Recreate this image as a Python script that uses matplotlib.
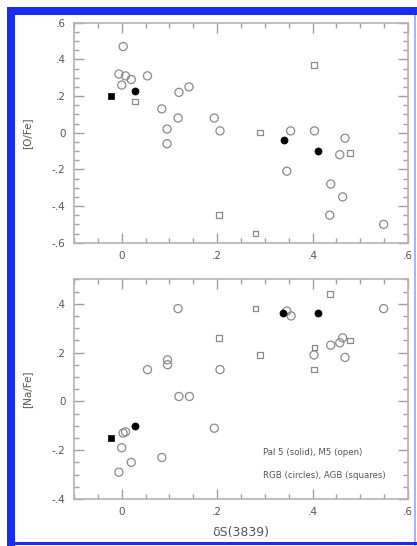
import matplotlib
matplotlib.use("Agg")
import matplotlib.pyplot as plt
from matplotlib.patches import Rectangle
from matplotlib.ticker import MultipleLocator, FuncFormatter

# ---------------- data ----------------
# Top panel: [O/Fe] vs dS(3839)
o_rgb_open_x = [0.003, -0.006, 0.008, 0.020, 0.000, 0.054, 0.141, 0.120, 0.084, 0.118,
                0.095, 0.095, 0.194, 0.206, 0.354, 0.404, 0.468, 0.457, 0.346, 0.438,
                0.463, 0.436, 0.549]
o_rgb_open_y = [0.47, 0.32, 0.31, 0.29, 0.26, 0.31, 0.25, 0.22, 0.13, 0.08,
                0.02, -0.06, 0.08, 0.01, 0.01, 0.01, -0.03, -0.12, -0.21, -0.28,
                -0.35, -0.45, -0.50]
o_agb_open_x = [0.028, 0.290, 0.403, 0.478, 0.204, 0.280]
o_agb_open_y = [0.17, 0.00, 0.37, -0.11, -0.45, -0.55]
o_rgb_pal5_x = [0.027, 0.341, 0.411]
o_rgb_pal5_y = [0.23, -0.04, -0.10]
o_agb_pal5_x = [-0.023]
o_agb_pal5_y = [0.20]

# Bottom panel: [Na/Fe] vs dS(3839)
na_rgb_open_x = [0.118, 0.346, 0.355, 0.549, 0.403, 0.438, 0.457, 0.463, 0.468, 0.096,
                 0.096, 0.054, 0.206, 0.120, 0.142, 0.194, 0.003, 0.008, 0.000, 0.020,
                 -0.006, 0.084]
na_rgb_open_y = [0.38, 0.37, 0.35, 0.38, 0.19, 0.23, 0.24, 0.26, 0.18, 0.17,
                 0.15, 0.13, 0.13, 0.02, 0.02, -0.11, -0.13, -0.125, -0.19, -0.25,
                 -0.29, -0.23]
na_agb_open_x = [0.280, 0.436, 0.204, 0.290, 0.404, 0.403, 0.478]
na_agb_open_y = [0.38, 0.44, 0.26, 0.19, 0.22, 0.13, 0.25]
na_rgb_pal5_x = [0.339, 0.411, 0.027]
na_rgb_pal5_y = [0.36, 0.36, -0.10]
na_agb_pal5_x = [-0.023]
na_agb_pal5_y = [-0.15]

x_label = "δS(3839)"
y_labels = ["[O/Fe]", "[Na/Fe]"]
note1 = "Pal 5 (solid), M5 (open)"
note2 = "RGB (circles), AGB (squares)"

# ---------------- figure ----------------
W, H = 417, 546
DPI = 100
fig = plt.figure(figsize=(W / DPI, H / DPI), dpi=DPI)
fig.patch.set_facecolor("white")


def box(l, t, r, b):
    return [l / W, 1 - b / H, (r - l) / W, (b - t) / H]


def prect(l, t, r, b, color):
    fig.add_artist(Rectangle((l / W, 1 - b / H), (r - l) / W, (b - t) / H,
                             transform=fig.transFigure, facecolor=color,
                             edgecolor="none", zorder=0))


blue = "#1a2cf0"
prect(7, 7, 15, 546, blue)      # left thick
prect(7, 7, 417, 15, blue)      # top thick
prect(414, 15, 416, 546, "#a8b4f4")  # right thin
prect(7, 542, 417, 545, blue)   # bottom thin

ax1 = fig.add_axes(box(74, 22.7, 408, 242.7))
ax2 = fig.add_axes(box(74, 279.3, 408, 499))

spine_c = "#b4b4b4"
tick_c = "#a0a0a0"
lab_c = "#555555"


def fmt(v, pos):
    if abs(v) < 1e-9:
        return "0"
    s = f"{v:.1f}"
    return s.replace("0.", ".")


for ax in (ax1, ax2):
    ax.set_xlim(-0.1, 0.6)
    ax.xaxis.set_major_locator(MultipleLocator(0.2))
    ax.xaxis.set_minor_locator(MultipleLocator(0.05))
    ax.yaxis.set_major_locator(MultipleLocator(0.2))
    ax.yaxis.set_minor_locator(MultipleLocator(0.05))
    ax.xaxis.set_major_formatter(FuncFormatter(fmt))
    ax.yaxis.set_major_formatter(FuncFormatter(fmt))
    ax.tick_params(which="both", direction="in", top=True, right=True,
                   color=tick_c, width=1.0, labelcolor=lab_c, labelsize=7.5)
    ax.tick_params(which="major", length=7.5, pad=6)
    ax.tick_params(which="minor", length=3.5)
    for sp in ax.spines.values():
        sp.set_color(spine_c)
        sp.set_linewidth(1.2)

ax1.set_ylim(-0.6, 0.6)
ax2.set_ylim(-0.4, 0.5)

open_c = "#8a8a8a"


def draw(ax, rx, ry, ax_, ay, px, py, sx, sy):
    ax.scatter(rx, ry, s=34, marker="o", facecolors="none", edgecolors=open_c,
               linewidths=0.9, zorder=3)
    ax.scatter(ax_, ay, s=16, marker="s", facecolors="none", edgecolors=open_c,
               linewidths=0.9, zorder=3)
    ax.scatter(px, py, s=26, marker="o", facecolors="black", edgecolors="black",
               linewidths=0.5, zorder=4)
    ax.scatter(sx, sy, s=16, marker="s", facecolors="black", edgecolors="black",
               linewidths=0.5, zorder=4)


draw(ax1, o_rgb_open_x, o_rgb_open_y, o_agb_open_x, o_agb_open_y,
     o_rgb_pal5_x, o_rgb_pal5_y, o_agb_pal5_x, o_agb_pal5_y)
draw(ax2, na_rgb_open_x, na_rgb_open_y, na_agb_open_x, na_agb_open_y,
     na_rgb_pal5_x, na_rgb_pal5_y, na_agb_pal5_x, na_agb_pal5_y)

ax1.set_ylabel(y_labels[0], color=lab_c, fontsize=7.5, labelpad=14)
ax2.set_ylabel(y_labels[1], color=lab_c, fontsize=7.5, labelpad=14)
ax2.set_xlabel(x_label, color=lab_c, fontsize=9, labelpad=6)

ax2.text(0.296, -0.21, note1, fontsize=6.2, color=lab_c, ha="left", va="center")
ax2.text(0.296, -0.305, note2, fontsize=6.2, color=lab_c, ha="left", va="center")

fig.savefig("out.png", dpi=DPI)
